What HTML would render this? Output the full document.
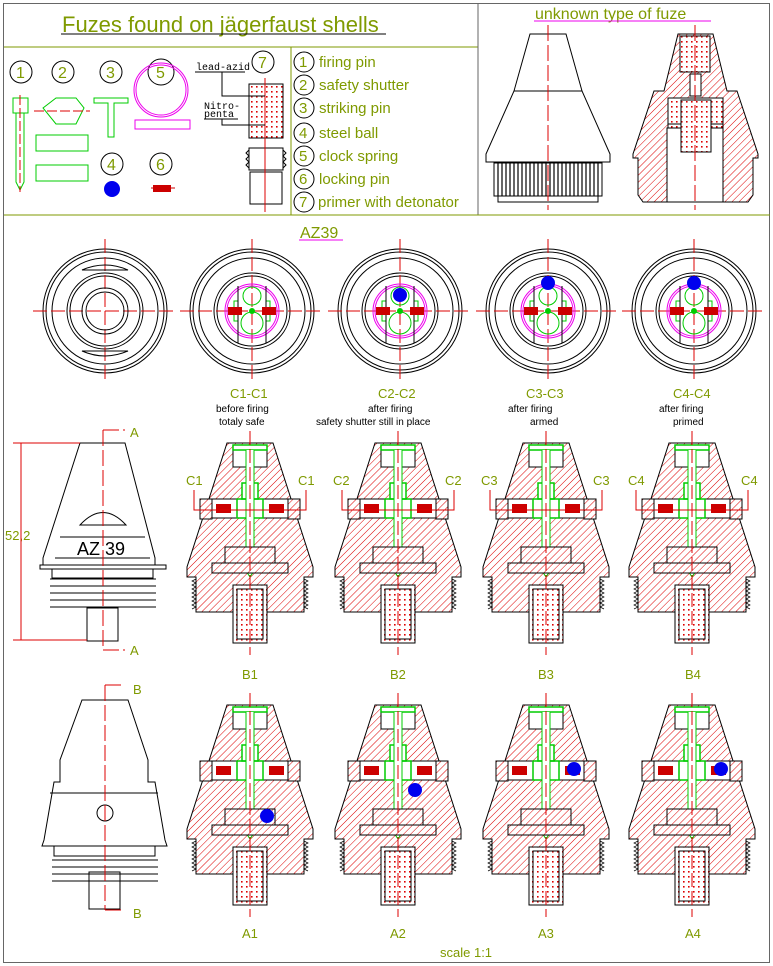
<!DOCTYPE html>
<html><head><meta charset="utf-8"><style>
html,body{margin:0;padding:0;background:#fff}
svg{display:block}
text{font-family:"Liberation Sans",sans-serif}
.ol{fill:#7f9a00}
.mono{font-family:"Liberation Mono",monospace;font-size:10px;fill:#000}
</style></head><body>
<svg width="773" height="966" viewBox="0 0 773 966" xmlns="http://www.w3.org/2000/svg">
<defs>
<pattern id="h" width="5" height="5" patternUnits="userSpaceOnUse" patternTransform="rotate(45)">
<rect width="5" height="5" fill="#fff"/><line x1="0" y1="0" x2="0" y2="5" stroke="#d00" stroke-width="1"/></pattern>
<pattern id="d" width="5" height="5" patternUnits="userSpaceOnUse">
<rect width="5" height="5" fill="#fff"/><rect x="1" y="1" width="1.6" height="1.6" fill="#d00"/></pattern>
<symbol id="fz" overflow="visible">
<path d="M-23,0 L23,0 L63,124 L63,134 L54,134 L54,169 L17,169 L17,200 L-17,200 L-17,169 L-54,169 L-54,134 L-63,134 L-63,124 Z" fill="url(#h)" stroke="#000"/>
<path d="M54,136 l4,2 -4,2 4,2 -4,2 4,2 -4,2 4,2 -4,2 4,2 -4,2 4,2 -4,2 4,2 -4,2 4,2 M-54,136 l-4,2 4,2 -4,2 4,2 -4,2 4,2 -4,2 4,2 -4,2 4,2 -4,2 4,2 -4,2 4,2 -4,2" fill="none" stroke="#000" stroke-width="0.7"/>
<rect x="-17" y="2" width="34" height="22" fill="#fff" stroke="#000"/>
<rect x="-38" y="56" width="76" height="19" fill="#fff" stroke="#000"/>
<rect x="-50" y="56" width="12" height="20" fill="url(#h)" stroke="#000"/>
<rect x="38" y="56" width="12" height="20" fill="url(#h)" stroke="#000"/>
<rect x="-34" y="61" width="15" height="9" fill="#c00"/>
<rect x="19" y="61" width="15" height="9" fill="#c00"/>
<rect x="-8" y="40" width="16" height="16" fill="#fff" stroke="#0c0" stroke-width="1.5"/>
<rect x="-13" y="56" width="26" height="19" fill="none" stroke="#0c0" stroke-width="1.5"/>
<rect x="-17" y="2" width="34" height="5" fill="none" stroke="#0c0" stroke-width="1.5"/>
<path d="M-4,7 L-4,128 L0,134 L4,128 L4,7" fill="#fff" stroke="#0c0"/>
<rect x="-25" y="104" width="50" height="16" fill="url(#h)" stroke="#000"/>
<rect x="-38" y="120" width="76" height="10" fill="url(#h)" stroke="#000"/>
<rect x="-17" y="142" width="34" height="58" fill="url(#d)" stroke="#000"/>
<rect x="-13" y="146" width="26" height="50" fill="none" stroke="#000"/>
<line x1="0" y1="-12" x2="0" y2="212" stroke="#d00" stroke-dasharray="14,4"/>
</symbol>
<symbol id="cv" overflow="visible">
<circle r="62" fill="none" stroke="#000"/><circle r="59" fill="none" stroke="#000"/>
<circle r="53" fill="none" stroke="#000"/><circle r="38" fill="none" stroke="#000"/><circle r="35" fill="none" stroke="#000"/>
<line x1="-72" y1="0" x2="72" y2="0" stroke="#d00" stroke-dasharray="14,4"/>
<line x1="0" y1="-72" x2="0" y2="72" stroke="#d00" stroke-dasharray="14,4"/>
</symbol>
<symbol id="cs" overflow="visible">
<circle r="27" fill="none" stroke="#e0e"/><circle r="25" fill="none" stroke="#e0e"/>
<circle cy="-15" r="9" fill="none" stroke="#0c0"/><circle cy="12" r="11" fill="none" stroke="#0c0"/>
<path d="M-14,-24 L-14,-10 L-18,-10 L-18,10 L-14,10 L-14,25 M14,-24 L14,-10 L18,-10 L18,10 L14,10 L14,25" fill="none" stroke="#0c0"/>
<line x1="-14" y1="-25" x2="-14" y2="32" stroke="#000"/><line x1="14" y1="-25" x2="14" y2="32" stroke="#000"/>
<rect x="-24" y="-4" width="14" height="8" fill="#c00"/><rect x="10" y="-4" width="14" height="8" fill="#c00"/>
<circle r="3" fill="#0c0"/>
</symbol>
</defs>

<rect x="3.5" y="3.5" width="766" height="959" fill="none" stroke="#666"/>
<line x1="4" y1="47" x2="478" y2="47" stroke="#7f9a00"/>
<line x1="478" y1="4" x2="478" y2="215" stroke="#666"/>
<line x1="4" y1="215" x2="770" y2="215" stroke="#7f9a00"/>
<line x1="291" y1="47" x2="291" y2="215" stroke="#7f9a00"/>

<text x="62" y="32" font-size="22" class="ol">Fuzes found on jägerfaust shells</text>
<line x1="61" y1="34" x2="386" y2="34" stroke="#000"/>

<g font-size="15" class="ol">
<g fill="none" stroke="#000"><circle cx="304" cy="62" r="10"/><circle cx="304" cy="85" r="10"/><circle cx="304" cy="108" r="10"/><circle cx="304" cy="133" r="10"/><circle cx="304" cy="156" r="10"/><circle cx="304" cy="179" r="10"/><circle cx="304" cy="202" r="10"/></g>
<text x="299" y="67">1</text><text x="299" y="90">2</text><text x="299" y="113">3</text><text x="299" y="138">4</text><text x="299" y="161">5</text><text x="299" y="184">6</text><text x="299" y="207">7</text>
<text x="319" y="67">firing pin</text><text x="319" y="90">safety shutter</text><text x="319" y="113">striking pin</text><text x="319" y="138">steel ball</text><text x="319" y="161">clock spring</text><text x="319" y="184">locking pin</text><text x="318" y="207">primer with detonator</text>
</g>

<g fill="none" stroke="#000"><circle cx="21" cy="72" r="11"/><circle cx="63" cy="72" r="11"/><circle cx="111" cy="72" r="11"/><circle cx="161" cy="72" r="13"/><circle cx="112" cy="164" r="11"/><circle cx="161" cy="164" r="11"/><circle cx="263" cy="62" r="11"/></g>
<g font-size="16" class="ol"><text x="16" y="78">1</text><text x="58" y="78">2</text><text x="106" y="78">3</text><text x="156" y="78">5</text><text x="107" y="170">4</text><text x="156" y="170">6</text><text x="258" y="68">7</text></g>
<g fill="none" stroke="#0c0">
<rect x="13" y="98" width="15" height="15"/><path d="M16,113 L16,182 L20,190 L24,182 L24,113"/>
<path d="M43,108 L56,98 L76,98 L84,108 L76,124 L56,124 Z"/>
<rect x="36" y="135" width="52" height="16"/><rect x="36" y="165" width="52" height="16"/>
<path d="M94,98 L128,98 L128,103 L114,103 L114,137 L108,137 L108,103 L94,103 Z"/>
</g>
<circle cx="161" cy="90" r="27" fill="none" stroke="#e0e"/><circle cx="161" cy="90" r="25" fill="none" stroke="#e0e"/>
<rect x="135" y="120" width="55" height="9" fill="none" stroke="#e0e"/>
<circle cx="112" cy="189" r="8" fill="#00e"/>
<rect x="153" y="185" width="18" height="7" fill="#c00"/><line x1="151" y1="188" x2="175" y2="188" stroke="#c00"/>
<line x1="20" y1="95" x2="20" y2="192" stroke="#d00" stroke-dasharray="10,3"/>
<line x1="34" y1="111" x2="90" y2="111" stroke="#d00" stroke-dasharray="10,3"/>
<rect x="249" y="84" width="34" height="54" fill="url(#d)" stroke="#000"/>
<rect x="249" y="148" width="34" height="22" fill="none" stroke="#000"/>
<path d="M249,150 l-3,3 3,3 -3,3 3,3 -3,3 3,3 M283,150 l3,3 -3,3 3,3 -3,3 3,3 -3,3" fill="none" stroke="#000"/>
<rect x="250" y="172" width="32" height="32" fill="none" stroke="#000"/>
<line x1="265" y1="78" x2="265" y2="212" stroke="#d00"/>
<text x="196" y="70" class="mono" font-size="9">lead-azid</text><line x1="195" y1="72" x2="245" y2="72" stroke="#000"/>
<path d="M222,72 L222,96 L265,96" fill="none" stroke="#000"/>
<text x="204" y="109" class="mono" font-size="9">Nitro-</text><text x="204" y="117" class="mono" font-size="9">penta</text>
<path d="M204,119 L238,119 M222,119 L222,125 L265,125" fill="none" stroke="#000"/>

<text x="535" y="19" font-size="16" class="ol">unknown type of fuze</text>
<line x1="534" y1="21" x2="711" y2="21" stroke="#e0e"/>
<path d="M530,34 L566,34 L582,91 L610,154 L610,162 L486,162 L486,154 L514,91 Z M514,91 L582,91" fill="none" stroke="#000"/>
<rect x="494" y="163" width="108" height="33" fill="none" stroke="#000"/>
<g stroke="#000" stroke-width="1.2"><path d="M498,163v33M502,163v33M506,163v33M510,163v33M514,163v33M518,163v33M522,163v33M526,163v33M530,163v33M534,163v33M538,163v33M542,163v33M546,163v33M550,163v33M554,163v33M558,163v33M562,163v33M566,163v33M570,163v33M574,163v33M578,163v33M582,163v33M586,163v33M590,163v33M594,163v33M598,163v33"/></g>
<rect x="498" y="196" width="100" height="6" fill="none" stroke="#000"/>
<line x1="548" y1="25" x2="548" y2="210" stroke="#d00" stroke-dasharray="16,4"/>
<path d="M678,34 L713,34 L727,91 L737,91 L758,154 L758,158 L753,158 L753,195 L748,202 L643,202 L638,195 L638,158 L633,158 L633,154 L654,91 L664,91 Z" fill="url(#h)" stroke="#000"/>
<rect x="680" y="36" width="30" height="36" fill="url(#d)" stroke="#000"/>
<rect x="690" y="74" width="11" height="22" fill="#fff" stroke="#000"/>
<rect x="668" y="98" width="55" height="26" fill="url(#d)" stroke="#000"/>
<rect x="668" y="124" width="55" height="30" fill="url(#d)" stroke="#000"/>
<rect x="667" y="128" width="56" height="74" fill="#fff" stroke="#000"/>
<rect x="681" y="100" width="30" height="52" fill="url(#d)" stroke="#000"/>
<line x1="695" y1="25" x2="695" y2="210" stroke="#d00" stroke-dasharray="16,4"/>

<text x="300" y="238" font-size="16" class="ol">AZ39</text>
<line x1="299" y1="240" x2="343" y2="240" stroke="#e0e"/>

<use href="#cv" x="105" y="311"/>
<circle cx="105" cy="311" r="23" fill="none" stroke="#000"/><circle cx="105" cy="311" r="19" fill="none" stroke="#000"/>
<path d="M82,270 Q105,260 128,270 Z M82,351 Q105,361 128,351 Z" fill="none" stroke="#000"/>
<use href="#cv" x="252" y="311"/><use href="#cs" x="252" y="311"/>
<use href="#cv" x="400" y="311"/><use href="#cs" x="400" y="311"/><circle cx="400" cy="295" r="7" fill="#00e"/>
<use href="#cv" x="548" y="311"/><use href="#cs" x="548" y="311"/><circle cx="548" cy="283" r="7" fill="#00e"/>
<use href="#cv" x="694" y="311"/><use href="#cs" x="694" y="311"/><circle cx="694" cy="283" r="7" fill="#00e"/>

<g font-size="13" class="ol">
<text x="230" y="398">C1-C1</text><text x="378" y="398">C2-C2</text><text x="526" y="398">C3-C3</text><text x="673" y="398">C4-C4</text>
<text x="186" y="485">C1</text><text x="298" y="485">C1</text>
<text x="333" y="485">C2</text><text x="445" y="485">C2</text>
<text x="481" y="485">C3</text><text x="593" y="485">C3</text>
<text x="628" y="485">C4</text><text x="741" y="485">C4</text>
<text x="242" y="679">B1</text><text x="390" y="679">B2</text><text x="538" y="679">B3</text><text x="685" y="679">B4</text>
<text x="242" y="938">A1</text><text x="390" y="938">A2</text><text x="538" y="938">A3</text><text x="685" y="938">A4</text>
<text x="440" y="957">scale 1:1</text>
<text x="5" y="540">52,2</text>
<text x="130" y="437">A</text><text x="130" y="655">A</text>
<text x="133" y="694">B</text><text x="133" y="918">B</text>
</g>
<g class="mono"><text x="216" y="412">before firing</text><text x="219" y="425">totaly safe</text>
<text x="368" y="412">after firing</text><text x="316" y="425">safety shutter still in place</text>
<text x="508" y="412">after firing</text><text x="530" y="425">armed</text>
<text x="659" y="412">after firing</text><text x="673" y="425">primed</text></g>

<use href="#fz" x="250" y="443"/><use href="#fz" x="398" y="443"/><use href="#fz" x="546" y="443"/><use href="#fz" x="692" y="443"/>
<g fill="none" stroke="#d00"><path d="M194,490 v20 h112 v-20 M342,490 v20 h112 v-20 M490,490 v20 h112 v-20 M636,490 v20 h112 v-20"/></g>
<use href="#fz" x="250" y="705"/><use href="#fz" x="398" y="705"/><use href="#fz" x="546" y="705"/><use href="#fz" x="692" y="705"/>
<circle cx="267" cy="816" r="7" fill="#00e"/><circle cx="415" cy="790" r="7" fill="#00e"/><circle cx="574" cy="769" r="7" fill="#00e"/><circle cx="721" cy="769" r="7" fill="#00e"/>

<path d="M80,443 L125,443 L155,558 L155,565 L43,565 L43,558 Z M60,537 L145,537 M55,558 L150,558" fill="none" stroke="#000"/>
<rect x="40" y="565" width="126" height="4" fill="none" stroke="#000"/>
<rect x="52" y="569" width="101" height="9" fill="none" stroke="#000"/>
<path d="M50,579 h106 M50,586 h106 M50,593 h106 M50,600 h106 M50,607 h106" stroke="#000"/>
<rect x="87" y="608" width="31" height="33" fill="none" stroke="#000"/>
<path d="M80,525 Q103,500 126,525 Z" fill="none" stroke="#000"/>
<text x="77" y="555" font-size="18" fill="#000">AZ 39</text>
<path d="M13,443 H80 M13,640 H87 M21,443 V640" stroke="#d00" fill="none"/>
<path d="M103,430 V650 M103,430 H125 M103,650 H125" stroke="#d00" fill="none" stroke-dasharray="16,4"/>
<path d="M82,700 L128,700 L148,760 L148,782 L155,782 L165,840 L167,846 L42,846 L44,840 L54,782 L60,782 L60,760 Z M50,793 L158,793" fill="none" stroke="#000"/>
<circle cx="105" cy="813" r="8" fill="none" stroke="#000"/>
<rect x="54" y="846" width="101" height="10" fill="none" stroke="#000"/>
<path d="M52,860 h106 M52,867 h106 M52,874 h106 M52,881 h106" stroke="#000"/>
<rect x="89" y="872" width="31" height="37" fill="none" stroke="#000"/>
<path d="M105,685 V910 M105,685 H125 M105,910 H125" stroke="#d00" fill="none" stroke-dasharray="16,4"/>
</svg>
</body></html>
